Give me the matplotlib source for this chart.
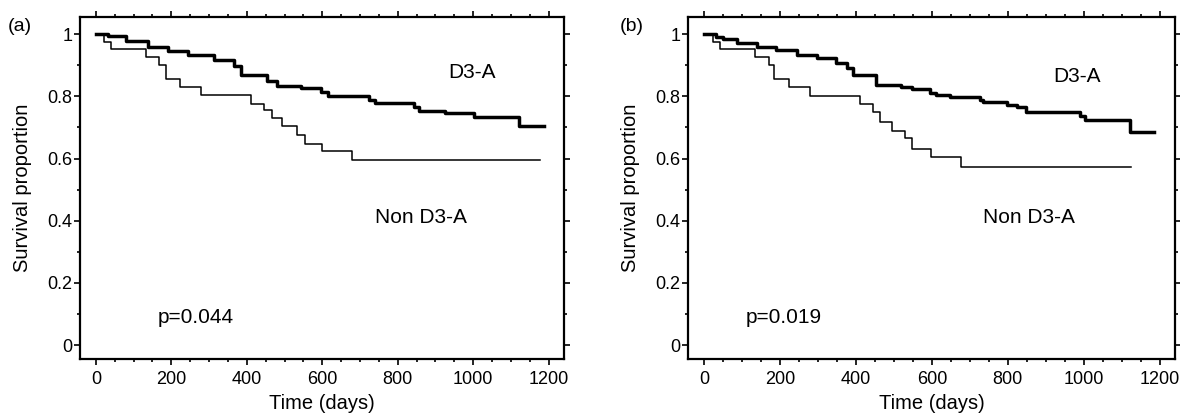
import matplotlib.pyplot as plt
from matplotlib.ticker import MultipleLocator

plt.rcParams['font.family'] = ['Liberation Sans', 'DejaVu Sans']

# panel (a) - step points (time in days, survival proportion)
a_d3_t = [0, 31, 80, 137, 190, 243, 313, 366, 384, 454, 480, 543, 596, 614, 724, 740,
          843, 857, 925, 1002, 1121, 1188]
a_d3_s = [1.0, 0.995, 0.978, 0.96, 0.945, 0.933, 0.917, 0.896, 0.87, 0.85, 0.832, 0.826,
          0.815, 0.80, 0.789, 0.778, 0.767, 0.754, 0.747, 0.735, 0.706, 0.706]
a_non_t = [0, 22, 40, 132, 168, 187, 222, 278, 411, 446, 468, 494, 533, 554, 600, 680, 1177]
a_non_s = [1.0, 0.975, 0.951, 0.925, 0.90, 0.856, 0.829, 0.803, 0.776, 0.755, 0.730, 0.703,
           0.674, 0.648, 0.623, 0.594, 0.594]

# panel (b)
b_d3_t = [0, 32, 51, 86, 139, 191, 244, 297, 349, 376, 393, 454, 520, 547, 595, 612, 647,
          726, 735, 797, 823, 849, 989, 1003, 1121, 1185]
b_d3_s = [1.0, 0.992, 0.984, 0.973, 0.96, 0.949, 0.933, 0.923, 0.906, 0.89, 0.869, 0.837,
          0.829, 0.823, 0.81, 0.804, 0.797, 0.788, 0.781, 0.772, 0.765, 0.751, 0.737, 0.724,
          0.684, 0.684]
b_non_t = [0, 23, 42, 134, 171, 185, 224, 279, 411, 446, 463, 494, 529, 549, 597, 678, 1124]
b_non_s = [1.0, 0.976, 0.952, 0.926, 0.901, 0.856, 0.831, 0.802, 0.775, 0.75, 0.716, 0.688,
           0.665, 0.632, 0.605, 0.573, 0.573]

panels = [
    ('(a)', a_d3_t, a_d3_s, a_non_t, a_non_s, 'p=0.044', (998, 0.878), (861, 0.41), (165, 0.09)),
    ('(b)', b_d3_t, b_d3_s, b_non_t, b_non_s, 'p=0.019', (981, 0.863), (855, 0.41), (110, 0.09)),
]

fig = plt.figure(figsize=(11.8, 4.15), dpi=100)
boxes = [[0.0678, 0.134, 0.410, 0.825], [0.583, 0.134, 0.4127, 0.825]]
letter_x = [0.017, 0.5355]

for i, (tag, t1, s1, t2, s2, ptxt, pos1, pos2, pos3) in enumerate(panels):
    ax = fig.add_axes(boxes[i])
    ax.step(t1, s1, where='post', color='black', lw=2.5)
    ax.step(t2, s2, where='post', color='black', lw=1.1)
    ax.set_xlim(-42, 1240)
    ax.set_ylim(-0.046, 1.055)
    ax.xaxis.set_major_locator(MultipleLocator(200))
    ax.xaxis.set_minor_locator(MultipleLocator(50))
    ax.yaxis.set_minor_locator(MultipleLocator(0.1))
    ax.set_yticks([0, 0.2, 0.4, 0.6, 0.8, 1.0])
    ax.set_yticklabels(['0', '0.2', '0.4', '0.6', '0.8', '1'])
    ax.tick_params(which='both', direction='out', top=True, right=True, labelsize=13,
                   width=1.2, color='black')
    ax.tick_params(which='major', length=4.5)
    ax.tick_params(which='minor', length=2.5)
    ax.tick_params(axis='y', pad=1)
    ax.tick_params(axis='x', pad=4)
    for sp in ax.spines.values():
        sp.set_linewidth(1.6)
    ax.set_xlabel('Time (days)', fontsize=14.5, labelpad=4)
    ax.set_ylabel('Survival proportion', fontsize=14.5, labelpad=11)
    ax.text(*pos1, 'D3-A', fontsize=15, ha='center', va='center')
    ax.text(*pos2, 'Non D3-A', fontsize=15, ha='center', va='center')
    ax.text(*pos3, ptxt, fontsize=15, ha='left', va='center')
    fig.text(letter_x[i], 0.935, tag, fontsize=14, ha='center', va='center')

fig.savefig('out.png', dpi=100)
